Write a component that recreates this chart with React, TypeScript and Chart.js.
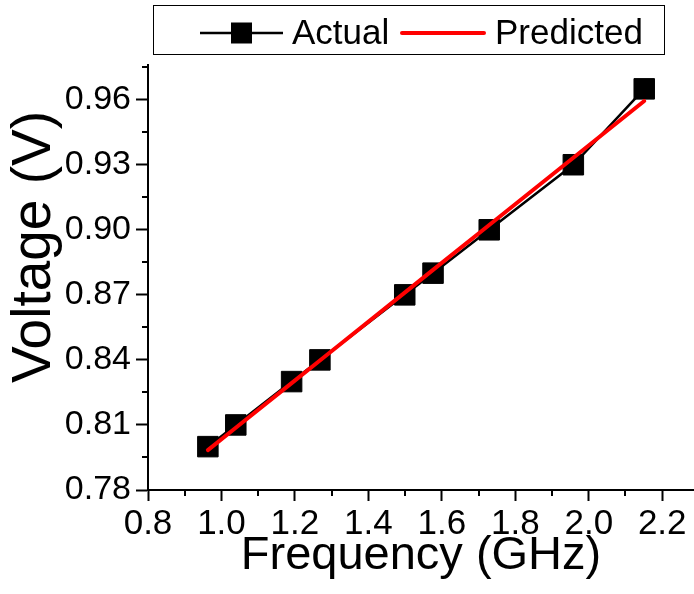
import { useEffect, useRef } from 'react';
import { Chart, registerables } from 'chart.js';

Chart.register(...registerables);

const frequencyGHz = [0.963, 1.039, 1.191, 1.268, 1.499, 1.576, 1.729, 1.958, 2.151];
const actualVoltage = [0.8, 0.81, 0.83, 0.84, 0.87, 0.88, 0.9, 0.93, 0.965];
const predictedVoltage = [0.7984, 0.8087, 0.8293, 0.8397, 0.871, 0.8815, 0.9022, 0.9332, 0.9594];
const seriesLabels = ['Actual', 'Predicted'];
const xTitle = 'Frequency (GHz)';
const yTitle = 'Voltage (V)';

const FONT = "'Liberation Sans', Arial, sans-serif";

const minorTicksPlugin = {
  id: 'minorTicks',
  afterDraw(chart: any) {
    const ctx = chart.ctx;
    const xs = chart.scales.x;
    const ys = chart.scales.y;
    ctx.save();
    ctx.strokeStyle = '#000';
    ctx.lineWidth = 2;
    const mids = (scale: any) => {
      const t = scale.ticks.map((k: any) => k.value);
      const step = t[1] - t[0];
      const out: number[] = [];
      for (let i = 0; i < t.length; i++) {
        const v = t[i] + step / 2;
        if (v <= scale.max + 1e-9) out.push(v);
      }
      return out;
    };
    for (const v of mids(xs)) {
      const p = Math.round(xs.getPixelForValue(v));
      ctx.beginPath();
      ctx.moveTo(p, chart.chartArea.bottom);
      ctx.lineTo(p, chart.chartArea.bottom + 6);
      ctx.stroke();
    }
    for (const v of mids(ys)) {
      const p = Math.round(ys.getPixelForValue(v));
      ctx.beginPath();
      ctx.moveTo(chart.chartArea.left, p);
      ctx.lineTo(chart.chartArea.left - 6, p);
      ctx.stroke();
    }
    ctx.restore();
  },
};

const yTitlePlugin = {
  id: 'yTitle',
  afterDraw(chart: any) {
    const ctx = chart.ctx;
    ctx.save();
    ctx.translate(35, 247);
    ctx.rotate(-Math.PI / 2);
    ctx.fillStyle = '#000';
    ctx.font = `55px ${FONT}`;
    ctx.textAlign = 'center';
    ctx.textBaseline = 'middle';
    ctx.fillText(yTitle, 0, 0);
    ctx.restore();
  },
};

const legendPlugin = {
  id: 'customLegend',
  afterDraw(chart: any) {
    const ctx = chart.ctx;
    ctx.save();
    ctx.strokeStyle = '#000';
    ctx.lineWidth = 1;
    ctx.strokeRect(153.5, 5.5, 511, 49);
    const cy = 33;
    ctx.lineWidth = 2.5;
    ctx.beginPath();
    ctx.moveTo(200, cy);
    ctx.lineTo(283, cy);
    ctx.stroke();
    ctx.fillStyle = '#000';
    ctx.fillRect(231, cy - 10.5, 21, 21);
    ctx.font = `35px ${FONT}`;
    ctx.textBaseline = 'middle';
    ctx.textAlign = 'left';
    ctx.fillText(seriesLabels[0], 292, cy + 1);
    ctx.strokeStyle = '#ff0000';
    ctx.lineWidth = 4;
    ctx.lineCap = 'round';
    ctx.beginPath();
    ctx.moveTo(402, cy);
    ctx.lineTo(484, cy);
    ctx.stroke();
    ctx.fillText(seriesLabels[1], 495, cy + 1);
    ctx.restore();
  },
};

export default function App() {
  const ref = useRef<HTMLCanvasElement | null>(null);
  useEffect(() => {
    if (!ref.current) return;
    const chart = new Chart(ref.current, {
      type: 'line',
      data: {
        datasets: [
          {
            label: seriesLabels[1],
            data: frequencyGHz.map((x, i) => ({ x, y: predictedVoltage[i] })),
            borderColor: '#ff0000',
            borderWidth: 4,
            pointRadius: 0,
            borderCapStyle: 'round',
            order: 0,
          },
          {
            label: seriesLabels[0],
            data: frequencyGHz.map((x, i) => ({ x, y: actualVoltage[i] })),
            borderColor: '#000',
            borderWidth: 2.5,
            pointStyle: 'rect',
            pointRadius: 14.5,
            pointBackgroundColor: '#000',
            pointBorderColor: '#000',
            pointBorderWidth: 1,
            order: 1,
          },
        ],
      },
      options: {
        responsive: false,
        animation: false,
        layout: { autoPadding: false, padding: { top: 65, left: 0, right: 0, bottom: 0 } },
        plugins: { legend: { display: false }, tooltip: { enabled: false } },
        scales: {
          x: {
            type: 'linear',
            min: 0.8,
            max: 2.2865,
            afterFit: (s: any) => {
              s.height = 104;
              s.paddingLeft = 0;
              s.paddingRight = 0;
            },
            ticks: {
              stepSize: 0.2,
              includeBounds: false,
              color: '#000',
              font: { family: FONT, size: 35 },
              padding: 2,
              maxRotation: 0,
              callback: (v: any) => Number(v).toFixed(1),
            },
            grid: { drawOnChartArea: false, drawTicks: true, tickLength: 11, tickWidth: 2, tickColor: '#000' },
            border: { display: true, color: '#000', width: 2 },
            title: {
              display: true,
              text: xTitle,
              color: '#000',
              font: { family: FONT, size: 47 },
              padding: { top: 0, bottom: 10 },
            },
          },
          y: {
            type: 'linear',
            min: 0.78,
            max: 0.976,
            afterFit: (s: any) => {
              s.width = 148;
              s.paddingTop = 0;
              s.paddingBottom = 0;
            },
            ticks: {
              stepSize: 0.03,
              includeBounds: false,
              color: '#000',
              font: { family: FONT, size: 34 },
              padding: 5,
              callback: (v: any) => Number(v).toFixed(2),
            },
            grid: { drawOnChartArea: false, drawTicks: true, tickLength: 12, tickWidth: 2, tickColor: '#000' },
            border: { display: true, color: '#000', width: 2 },
          },
        },
      },
      plugins: [minorTicksPlugin, yTitlePlugin, legendPlugin],
    } as any);
    return () => chart.destroy();
  }, []);
  return (
    <div style={{ position: 'fixed', left: 0, top: 0, width: 694, height: 594, background: '#fff' }}>
      <canvas ref={ref} width={694} height={594} style={{ display: 'block' }} />
    </div>
  );
}
